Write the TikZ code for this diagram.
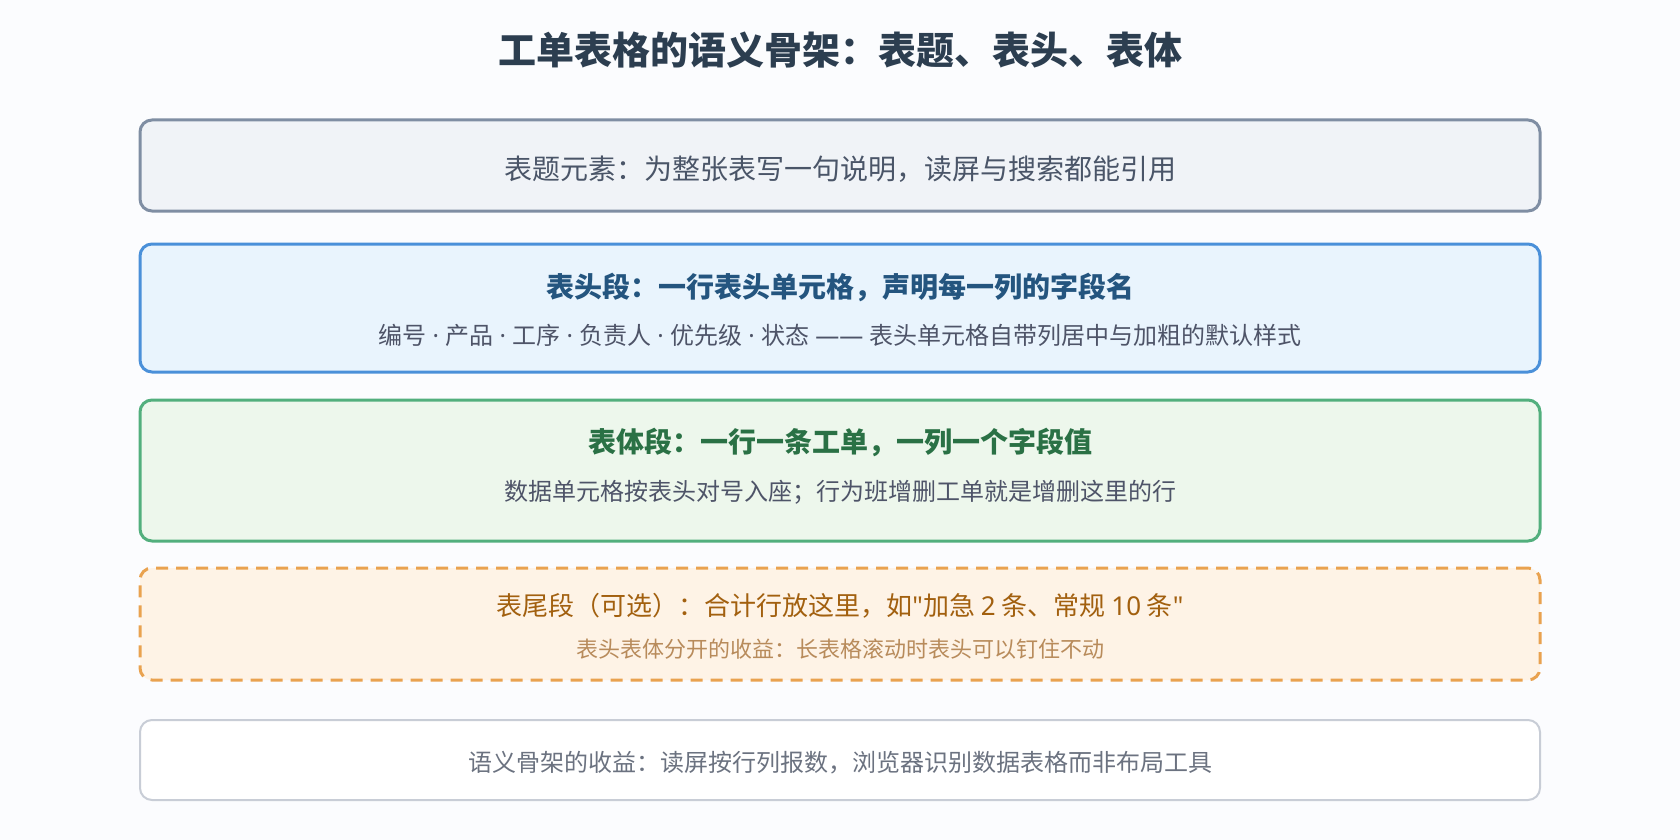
\documentclass[tikz,border=0pt]{standalone}
\usepackage{fontspec}
\setmainfont{Noto Sans CJK SC}
\newfontfamily\latinfont{Noto Sans}
\usepackage{xcolor}

\definecolor{titleink}{HTML}{2C3E50}
\definecolor{capline}{HTML}{7F8EA3}
\definecolor{capfill}{HTML}{F0F3F7}
\definecolor{capink}{HTML}{4A5568}
\definecolor{headline}{HTML}{4A90D9}
\definecolor{headfill}{HTML}{E9F4FD}
\definecolor{headink}{HTML}{24557F}
\definecolor{bodyline}{HTML}{52AF7D}
\definecolor{bodyfill}{HTML}{EDF7EC}
\definecolor{bodyink}{HTML}{2A7145}
\definecolor{footline}{HTML}{E9A24F}
\definecolor{footfill}{HTML}{FEF3E6}
\definecolor{footink}{HTML}{A2600F}
\definecolor{footsub}{HTML}{B88B5B}
\definecolor{noteline}{HTML}{C8CDD6}
\definecolor{noteink}{HTML}{6B7280}
\definecolor{subink}{HTML}{4E5468}
\definecolor{pagebg}{HTML}{FBFCFE}

\newcommand{\sepdot}{{\latinfont\ ·\ }}

\tikzset{
  segbox/.style={rounded corners=6pt, line width=1.5pt, minimum width=700pt, inner sep=0pt},
  maintext/.style={inner sep=0pt, font=\fontsize{14pt}{16pt}\selectfont},
  subtext/.style={inner sep=0pt, font=\fontsize{12pt}{14pt}\selectfont, text=subink}
}

\begin{document}
\begin{tikzpicture}[x=0.5pt,y=-0.5pt]
  \fill[pagebg] (0,0) rectangle (1680,840);
  \useasboundingbox (0,0) rectangle (1680,840);
  \node[inner sep=0pt, text=titleink, font=\fontsize{19pt}{21pt}\selectfont\bfseries] (title) at (840,50) {工单表格的语义骨架：表题、表头、表体};

  % caption
  \node[segbox, draw=capline, fill=capfill, minimum height=45.5pt] (cap) at (840,165.5) {};
  \node[maintext, text=capink] (captxt) at (840,169) {表题元素：为整张表写一句说明，读屏与搜索都能引用};

  % thead
  \node[segbox, draw=headline, fill=headfill, minimum height=64pt] (head) at (840,308) {};
  \node[maintext, text=headink, font=\fontsize{14pt}{16pt}\selectfont\bfseries] (headtxt) at (840,287) {表头段：一行表头单元格，声明每一列的字段名};
  \node[subtext] (headsub) at (840,335) {编号\sepdot 产品\sepdot 工序\sepdot 负责人\sepdot 优先级\sepdot 状态{\latinfont\ ——\ }表头单元格自带列居中与加粗的默认样式};

  % tbody
  \node[segbox, draw=bodyline, fill=bodyfill, minimum height=70.5pt] (body) at (840,470.5) {};
  \node[maintext, text=bodyink, font=\fontsize{14pt}{16pt}\selectfont\bfseries] (bodytxt) at (840,442) {表体段：一行一条工单，一列一个字段值};
  \node[subtext] (bodysub) at (840,492) {数据单元格按表头对号入座；行为班增删工单就是增删这里的行};

  % tfoot
  \node[segbox, draw=footline, fill=footfill, dash pattern=on 6pt off 4pt, minimum height=56pt] (foot) at (840,624) {};
  \node[maintext, text=footink, font=\fontsize{13pt}{15pt}\selectfont] (foottxt) at (840,606) {表尾段（可选）：合计行放这里，如{\latinfont\textquotedbl}加急 {\latinfont 2} 条、常规 {\latinfont 10} 条{\latinfont\textquotedbl}};
  \node[subtext, text=footsub, font=\fontsize{11pt}{13pt}\selectfont] (footsubtxt) at (840,649) {表头表体分开的收益：长表格滚动时表头可以钉住不动};

  % note
  \node[segbox, draw=noteline, fill=white, line width=1pt, minimum height=40pt] (note) at (840,760) {};
  \node[subtext, text=noteink] (notetxt) at (840,763) {语义骨架的收益：读屏按行列报数，浏览器识别数据表格而非布局工具};
\end{tikzpicture}
\end{document}
